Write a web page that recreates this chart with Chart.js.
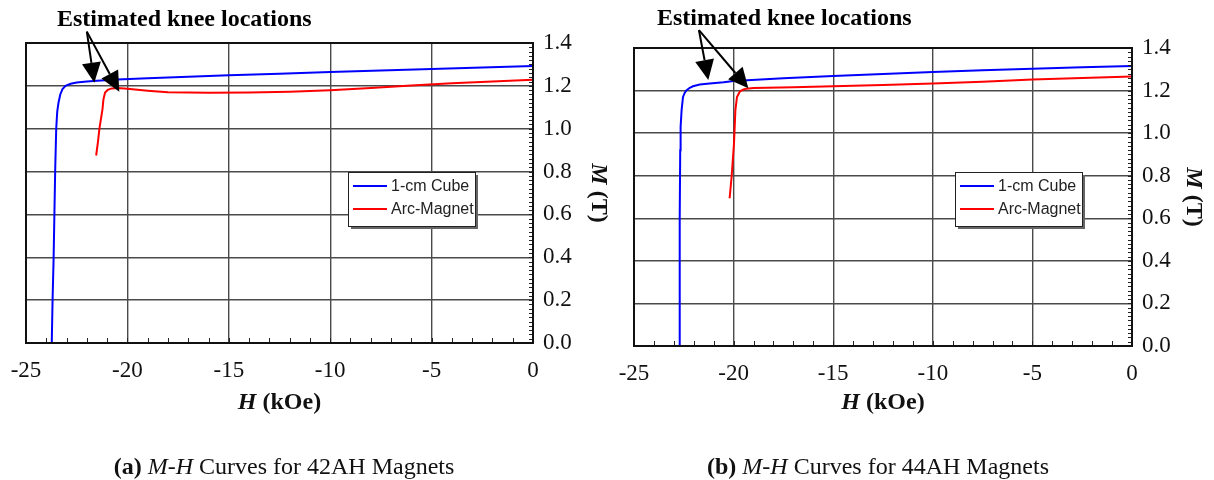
<!DOCTYPE html>
<html>
<head>
<meta charset="utf-8">
<script src="https://cdn.jsdelivr.net/npm/chart.js@4/dist/chart.umd.min.js"></script>
<style>
  html, body { margin: 0; padding: 0; background: #fff; }
  body { width: 1214px; height: 480px; position: relative; overflow: hidden; font-family: "Liberation Serif", "Times New Roman", serif; }
  #w1 { position: absolute; left: 0; top: 0; }
  #w2 { position: absolute; left: 607px; top: 0; }
  .cap { position: absolute; top: 452px; font-size: 24px; line-height: 28px; text-align: center; color: #111; white-space: nowrap; }
</style>
</head>
<body>
<canvas id="w1" width="614" height="480"></canvas>
<canvas id="w2" width="607" height="480"></canvas>
<div class="cap" style="left:0;width:568px"><b>(a)</b> <i>M-H</i> Curves for 42AH Magnets</div>
<div class="cap" style="left:607px;width:542px"><b>(b)</b> <i>M-H</i> Curves for 44AH Magnets</div>
<script>
// ---------- tick values ----------
const hTicks = [-25, -20, -15, -10, -5, 0];
const mTicks = [0, 0.2, 0.4, 0.6, 0.8, 1.0, 1.2, 1.4];
const seriesLabels = ['1-cm Cube', 'Arc-Magnet'];
const seriesColors = ['#0000ff', '#ff0000'];

// ---------- (a) 42AH ----------
const cube42H = [-23.73, -23.69, -23.64, -23.6, -23.56, -23.51, -23.46, -23.40, -23.31, -23.2, -23.05, -22.8, -22.5, -22.0, -21.5, -20.5, -19.0, -17.0, -15.0, -12.5, -10.0, -7.5, -5.0, -2.5, 0];
const cube42M = [0, 0.2, 0.39, 0.6, 0.81, 1.0, 1.08, 1.12, 1.16, 1.185, 1.2, 1.21, 1.216, 1.22, 1.224, 1.23, 1.236, 1.243, 1.25, 1.257, 1.265, 1.272, 1.279, 1.286, 1.293];
const arc42H = [-21.54, -21.45, -21.38, -21.23, -21.18, -21.1, -20.97, -20.77, -20.5, -20.0, -19.0, -18.0, -16.0, -14.0, -12.0, -10.0, -8.0, -6.0, -4.0, -2.0, 0];
const arc42M = [0.875, 0.94, 1.0, 1.09, 1.138, 1.169, 1.181, 1.188, 1.19, 1.186, 1.177, 1.17, 1.168, 1.169, 1.173, 1.18, 1.19, 1.202, 1.212, 1.22, 1.228];

// ---------- (b) 44AH ----------
const cube44H = [-22.72, -22.71, -22.7, -22.68, -22.66, -22.61, -22.54, -22.45, -22.37, -22.2, -22.04, -21.7, -21.2, -20.5, -20.0, -17.5, -15.0, -12.5, -10.0, -7.5, -5.0, -2.5, 0];
const cube44M = [0, 0.3, 0.6, 0.92, 1.03, 1.108, 1.17, 1.19, 1.201, 1.213, 1.22, 1.228, 1.233, 1.239, 1.245, 1.258, 1.269, 1.278, 1.287, 1.295, 1.302, 1.309, 1.315];
const arc44H = [-20.2, -20.1, -19.98, -19.91, -19.83, -19.72, -19.66, -19.5, -19.36, -19.0, -17.0, -15.0, -12.5, -10.0, -7.5, -5.0, -2.5, 0];
const arc44M = [0.694, 0.795, 0.952, 1.108, 1.17, 1.19, 1.198, 1.205, 1.209, 1.212, 1.216, 1.22, 1.226, 1.233, 1.242, 1.252, 1.259, 1.266];

// ---------- knee annotations (data coords) ----------
const kneeText = 'Estimated knee locations';
const knee42Origin = [-22.0, 1.453];
const knee42TipH = [-21.63, -20.4];
const knee42TipM = [1.215, 1.173];
const knee44Origin = [-21.74, 1.484];
const knee44TipH = [-21.27, -19.26];
const knee44TipM = [1.25, 1.211];

const SERIF = '"Liberation Serif", "Times New Roman", serif';
const SANS = '"Liberation Sans", Arial, sans-serif';

function pts(h, m) { return h.map((v, i) => ({ x: v, y: m[i] })); }

const decor = {
  id: 'decor',
  afterDraw(chart, args, o) {
    const ctx = chart.ctx, xs = chart.scales.x, ys = chart.scales.y, a = chart.chartArea;
    ctx.save();
    // minor ticks
    ctx.strokeStyle = '#222'; ctx.lineWidth = 1;
    ctx.beginPath();
    for (let v = -25; v <= 0; v += 1) {
      const px = Math.round(xs.getPixelForValue(v)) + 0.5;
      ctx.moveTo(px, a.bottom); ctx.lineTo(px, a.bottom - 5);
    }
    for (let i = 0; i <= 70; i++) {
      const py = Math.round(ys.getPixelForValue(i * 0.02)) + 0.5;
      ctx.moveTo(a.right, py); ctx.lineTo(a.right - 4, py);
    }
    ctx.stroke();
    // frame
    ctx.lineWidth = 2; ctx.strokeStyle = '#111';
    ctx.strokeRect(a.left, a.top, a.right - a.left, a.bottom - a.top);

    // x-axis title: H (kOe)
    ctx.fillStyle = '#111';
    ctx.textBaseline = 'middle';
    const f1 = 'italic bold 24px ' + SERIF, f2 = 'bold 24px ' + SERIF;
    ctx.font = f1; const w1 = ctx.measureText('H').width;
    ctx.font = f2; const w2 = ctx.measureText(' (kOe)').width;
    let sx = (a.left + a.right) / 2 - (w1 + w2) / 2;
    ctx.font = f1; ctx.fillText('H', sx, o.xTitleY);
    ctx.font = f2; ctx.fillText(' (kOe)', sx + w1, o.xTitleY);

    // y-axis title: M (T), rotated
    ctx.save();
    ctx.translate(a.right + o.yTitleDx, (a.top + a.bottom) / 2);
    ctx.rotate(Math.PI / 2);
    ctx.font = f1; const w3 = ctx.measureText('M').width;
    ctx.font = f2; const w4 = ctx.measureText(' (T)').width;
    ctx.font = f1; ctx.fillText('M', -(w3 + w4) / 2, 0);
    ctx.font = f2; ctx.fillText(' (T)', -(w3 + w4) / 2 + w3, 0);
    ctx.restore();

    // legend box
    const L = o.legend;
    ctx.fillStyle = '#666';
    ctx.fillRect(L.x + 3, L.y + 3, L.w, L.h);
    ctx.fillStyle = '#fff';
    ctx.fillRect(L.x, L.y, L.w, L.h);
    ctx.lineWidth = 1; ctx.strokeStyle = '#222';
    ctx.strokeRect(L.x + 0.5, L.y + 0.5, L.w, L.h);
    ctx.font = '16px ' + SANS;
    ctx.textBaseline = 'middle';
    chart.data.datasets.forEach((ds, i) => {
      const yy = L.y + L.row0 + i * L.rowGap;
      ctx.strokeStyle = ds.borderColor; ctx.lineWidth = 2;
      ctx.beginPath(); ctx.moveTo(L.x + 5, yy); ctx.lineTo(L.x + 39, yy); ctx.stroke();
      ctx.fillStyle = '#222';
      ctx.fillText(ds.label, L.x + 43, yy + 1);
    });

    // knee annotation
    const K = o.knee;
    ctx.fillStyle = '#000';
    ctx.font = 'bold 24px ' + SERIF;
    ctx.textBaseline = 'alphabetic';
    ctx.fillText(kneeText, K.textX, K.textY);
    const ox = xs.getPixelForValue(K.origin[0]), oy = ys.getPixelForValue(K.origin[1]);
    K.tipH.forEach((h, i) => {
      const tx = xs.getPixelForValue(h), ty = ys.getPixelForValue(K.tipM[i]);
      const ang = Math.atan2(ty - oy, tx - ox);
      const len = 20, hw = 9.5;
      const bx = tx - len * Math.cos(ang), by = ty - len * Math.sin(ang);
      ctx.strokeStyle = '#000'; ctx.lineWidth = 2;
      ctx.beginPath(); ctx.moveTo(ox, oy); ctx.lineTo(bx, by); ctx.stroke();
      ctx.beginPath();
      ctx.moveTo(tx, ty);
      ctx.lineTo(bx + hw * Math.sin(ang), by - hw * Math.cos(ang));
      ctx.lineTo(bx - hw * Math.sin(ang), by + hw * Math.cos(ang));
      ctx.closePath(); ctx.fill();
    });
    ctx.restore();
  }
};

function makeChart(id, cubeH, cubeM, arcH, arcM, lay) {
  return new Chart(document.getElementById(id), {
    type: 'scatter',
    data: {
      datasets: [
        { label: seriesLabels[0], data: pts(cubeH, cubeM), showLine: true, borderColor: seriesColors[0], backgroundColor: seriesColors[0], borderWidth: 2, pointRadius: 0, tension: 0 },
        { label: seriesLabels[1], data: pts(arcH, arcM), showLine: true, borderColor: seriesColors[1], backgroundColor: seriesColors[1], borderWidth: 2, pointRadius: 0, tension: 0 }
      ]
    },
    options: {
      responsive: false,
      animation: false,
      events: [],
      layout: { padding: { left: lay.left, top: lay.top, right: 0, bottom: 0 } },
      scales: {
        x: {
          type: 'linear', position: 'bottom', min: -25, max: 0,
          afterBuildTicks: s => { s.ticks = hTicks.map(v => ({ value: v })); },
          afterFit: s => { s.height = lay.xH; s.paddingLeft = 0; s.paddingRight = 0; },
          ticks: { color: '#111', font: { family: SERIF, size: 23 }, padding: 14, maxRotation: 0, callback: v => String(v) },
          grid: { color: '#4a4a4a', lineWidth: 1.4, drawTicks: false },
          border: { display: true, color: '#111', width: 2 }
        },
        y: {
          type: 'linear', position: 'right', min: 0, max: 1.4,
          afterBuildTicks: s => { s.ticks = mTicks.map(v => ({ value: v })); },
          afterFit: s => { s.width = lay.yW; s.paddingTop = 0; s.paddingBottom = 0; },
          ticks: { color: '#111', font: { family: SERIF, size: 23 }, padding: 10, callback: v => Number(v).toFixed(1) },
          grid: { color: '#4a4a4a', lineWidth: 1.4, drawTicks: false },
          border: { display: true, color: '#111', width: 2 }
        }
      },
      plugins: {
        legend: { display: false },
        tooltip: { enabled: false },
        decor: {
          xTitleY: 403,
          yTitleDx: lay.yTitleDx,
          legend: { x: 348, y: 172, w: 127, h: 54, row0: 14, rowGap: 23 },
          knee: lay.knee
        }
      }
    },
    plugins: [decor]
  });
}

makeChart('w1', cube42H, cube42M, arc42H, arc42M, {
  left: 26, top: 43, xH: 480 - 343, yW: 614 - 533, yTitleDx: 65,
  knee: { textX: 57, textY: 26, origin: knee42Origin, tipH: knee42TipH, tipM: knee42TipM }
});
makeChart('w2', cube44H, cube44M, arc44H, arc44M, {
  left: 27, top: 48, xH: 480 - 346, yW: 607 - 525, yTitleDx: 61,
  knee: { textX: 50, textY: 25, origin: knee44Origin, tipH: knee44TipH, tipM: knee44TipM }
});
</script>
</body>
</html>
